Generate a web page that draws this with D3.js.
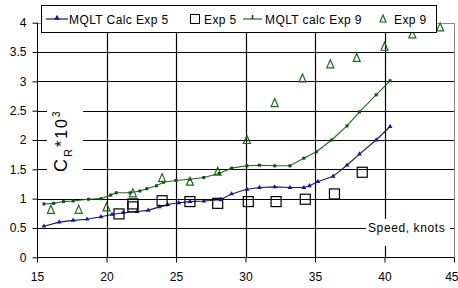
<!DOCTYPE html>
<html><head><meta charset="utf-8">
<script src="https://cdn.jsdelivr.net/npm/d3@7"></script>
<style>body{margin:0;background:#fff}svg{display:block;font-family:"Liberation Sans",Arial,sans-serif}</style>
</head><body><svg id="c" width="458" height="288"></svg>
<script>
// Data
const calc5X = [15.5,16.6,17.6,18.6,19.6,20.4,21.2,22.2,23.0,23.8,24.4,25.2,26.0,27.0,28.2,29.0,30.1,31.0,32.1,33.2,34.2,34.6,35.2,36.3,37.3,38.2,39.4,40.4];
const calc5Y = [0.53,0.60,0.63,0.65,0.69,0.73,0.76,0.78,0.80,0.86,0.90,0.93,0.95,0.96,0.98,1.08,1.16,1.19,1.20,1.19,1.19,1.22,1.29,1.38,1.57,1.76,2.00,2.23];
const calc9X = [15.5,16.2,16.9,17.6,18.7,19.6,20.3,20.7,21.7,22.4,22.9,23.6,24.1,25.0,26.0,27.0,28.1,29.0,30.1,31.0,32.1,33.2,34.2,35.1,36.2,37.3,38.2,39.4,40.4];
const calc9Y = [0.91,0.92,0.95,0.96,0.99,1.00,1.06,1.10,1.10,1.13,1.17,1.22,1.28,1.31,1.33,1.36,1.43,1.52,1.56,1.57,1.56,1.56,1.69,1.80,2.00,2.24,2.48,2.77,3.01];
const exp5X = [20.9,21.9,21.9,24.0,26.0,28.0,30.2,32.2,34.3,36.4,38.4];
const exp5Y = [0.74,0.91,0.86,0.965,0.95,0.92,0.95,0.95,0.99,1.08,1.45];
const exp9X = [16.0,18.0,20.0,21.9,24.0,26.0,28.0,30.1,32.1,34.1,36.1,38.0,40.0,42.0,44.0];
const exp9Y = [0.81,0.81,0.85,1.09,1.35,1.29,1.46,2.00,2.63,3.05,3.29,3.40,3.59,3.80,3.92];
const xTicks = [15,20,25,30,35,40,45];
const yTicks = [0,0.5,1,1.5,2,2.5,3,3.5,4];
const yTickLabels = ["0","0.5","1","1.5","2","2.5","3","3.5","4"];
const legendLabels = ["MQLT Calc Exp 5","Exp 5","MQLT calc Exp 9","Exp 9"];

const svg = d3.select("#c");
const x = d3.scaleLinear().domain([15,45]).range([37,454]);
const y = d3.scaleLinear().domain([0,4]).range([257.3,22.7]);
const blueLine="#1c1c3c", blueMk="#1515b0", green="#1f6b1f", greenDark="#134d13";

// gridlines
svg.append("g").selectAll("line").data(yTicks.slice(1)).join("line")
  .attr("x1",x(15)).attr("x2",x(45)).attr("y1",d=>Math.round(y(d))+0.5).attr("y2",d=>Math.round(y(d))+0.5)
  .attr("stroke","#000").attr("stroke-width",1.2);
svg.append("g").selectAll("line").data(xTicks.slice(1,-1)).join("line")
  .attr("x1",d=>Math.round(x(d))+0.5).attr("x2",d=>Math.round(x(d))+0.5).attr("y1",y(0)).attr("y2",y(4))
  .attr("stroke","#000").attr("stroke-width",1.2);
// plot border (right/top gray)
svg.append("path").attr("d",`M${x(15)},${Math.round(y(4))+0.5}H${Math.round(x(45))+0.5}V${y(0)}`)
  .attr("fill","none").attr("stroke","#888");

// axes
const yAxis = d3.axisLeft(y).tickValues(yTicks).tickFormat((d,i)=>yTickLabels[i]).tickSize(5).tickPadding(6);
const gy = svg.append("g").attr("transform",`translate(${Math.round(x(15))+0.5},0)`).call(yAxis);
gy.select(".domain").attr("d",`M0,${y(4)}V${y(0)}`).attr("stroke","#000");
gy.selectAll("text").attr("font-size",12).attr("font-family","Liberation Sans, Arial, sans-serif").attr("fill","#000");
const xAxis = d3.axisBottom(x).tickValues(xTicks).tickSize(5).tickPadding(10);
const gx = svg.append("g").attr("transform",`translate(0,${Math.round(y(0))+0.5})`).call(xAxis);
gx.select(".domain").attr("d",`M${x(15)},0H${x(45)}`).attr("stroke","#000");
gx.selectAll("text").attr("font-size",12).attr("font-family","Liberation Sans, Arial, sans-serif").attr("fill","#000");
gx.selectAll(".tick").filter(d=>d===45).select("text").attr("text-anchor","end").attr("x",4);

// y title box and text
svg.append("rect").attr("x",x(15)+10).attr("y",y(2.65)).attr("width",36).attr("height",y(1.35)-y(2.65)).attr("fill","#fff");
const yt = svg.append("text").attr("transform","translate(67,172) rotate(-90)").attr("font-size",18).attr("letter-spacing",2);
yt.append("tspan").text("C");
yt.append("tspan").attr("font-size",11).attr("dy",5).text("R");
yt.append("tspan").attr("dy",-5).attr("font-size",16).text("*10");
yt.append("tspan").attr("font-size",10).attr("dy",-7).text("3");

// Speed label
svg.append("rect").attr("x",366).attr("y",219).attr("width",84).attr("height",27).attr("fill","#fff");
svg.append("text").attr("x",368).attr("y",232).attr("font-size",12).attr("letter-spacing",0.6).text("Speed, knots");

// calc lines
const line = d3.line().x(d=>x(d[0])).y(d=>y(d[1]));
const c5 = calc5X.map((v,i)=>[v,calc5Y[i]]);
const c9 = calc9X.map((v,i)=>[v,calc9Y[i]]);
svg.append("path").datum(c9).attr("d",line).attr("fill","none").attr("stroke",green).attr("stroke-width",1.1);
svg.append("path").datum(c5).attr("d",line).attr("fill","none").attr("stroke",blueLine).attr("stroke-width",1.1);
const tri = d3.symbol().type(d3.symbolTriangle);
svg.append("g").selectAll("path").data(c5).join("path")
  .attr("transform",d=>`translate(${x(d[0])},${y(d[1])})`).attr("d",tri.size(10)()).attr("fill",blueMk);
svg.append("g").selectAll("rect").data(c9).join("rect")
  .attr("x",d=>x(d[0])-1.5).attr("y",d=>y(d[1])-1.5).attr("width",3).attr("height",3).attr("fill",greenDark);

// experimental points
const e5 = exp5X.map((v,i)=>[v,exp5Y[i]]);
const e9 = exp9X.map((v,i)=>[v,exp9Y[i]]);
svg.append("g").selectAll("rect").data(e5).join("rect")
  .attr("x",d=>x(d[0])-5).attr("y",d=>y(d[1])-5).attr("width",10).attr("height",10)
  .attr("fill","none").attr("stroke","#000").attr("stroke-width",1.2);
svg.append("g").selectAll("path").data(e9).join("path")
  .attr("transform",d=>`translate(${x(d[0])},${y(d[1])})`).attr("d","M0,-4.5L3.5,3.5H-3.5Z")
  .attr("fill","none").attr("stroke",green).attr("stroke-width",1.2);

// legend
const lg = svg.append("g");
lg.append("rect").attr("x",41.5).attr("y",5.5).attr("width",395).attr("height",27).attr("fill","#fff").attr("stroke","#000");
const ly = 19;
lg.append("line").attr("x1",46).attr("x2",68).attr("y1",ly).attr("y2",ly).attr("stroke",blueLine).attr("stroke-width",1.2);
lg.append("path").attr("transform",`translate(57,${ly-1})`).attr("d",tri.size(14)()).attr("fill",blueMk);
lg.append("text").attr("x",69).attr("y",ly+4.5).attr("font-size",12).attr("letter-spacing",0.4).text(legendLabels[0]);
lg.append("rect").attr("x",190.5).attr("y",ly-4.5).attr("width",9).attr("height",9).attr("fill","none").attr("stroke","#000");
lg.append("text").attr("x",204).attr("y",ly+4.5).attr("font-size",12).attr("letter-spacing",0.4).text(legendLabels[1]);
lg.append("line").attr("x1",243).attr("x2",262).attr("y1",ly).attr("y2",ly).attr("stroke",green).attr("stroke-width",1.2);
lg.append("line").attr("x1",252.5).attr("x2",252.5).attr("y1",ly-4).attr("y2",ly).attr("stroke",greenDark).attr("stroke-width",1.5);
lg.append("text").attr("x",265).attr("y",ly+4.5).attr("font-size",12).attr("letter-spacing",0.4).text(legendLabels[2]);
lg.append("path").attr("transform",`translate(383,${ly})`).attr("d","M0,-4L3,3H-3Z").attr("fill","none").attr("stroke",green).attr("stroke-width",1.2);
lg.append("text").attr("x",394).attr("y",ly+4.5).attr("font-size",12).attr("letter-spacing",0.4).text(legendLabels[3]);
</script></body></html>
